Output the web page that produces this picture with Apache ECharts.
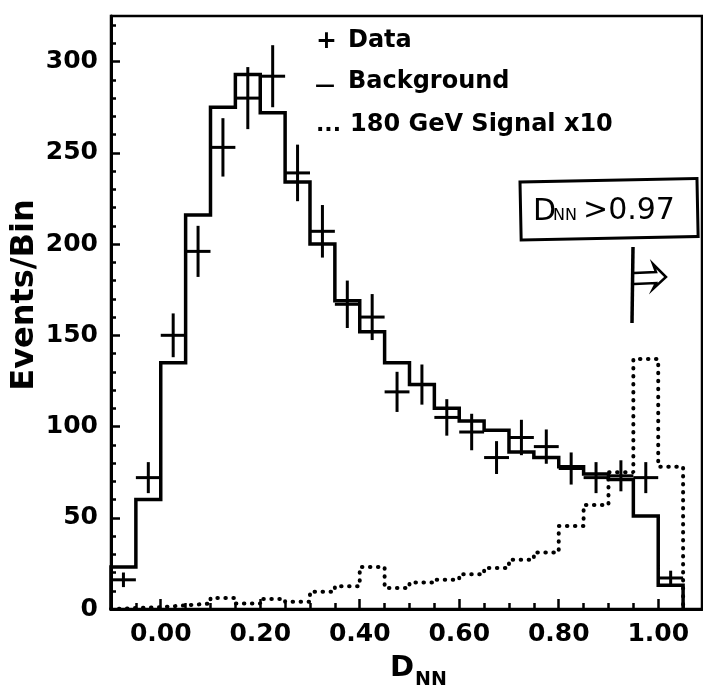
<!DOCTYPE html>
<html>
<head>
<meta charset="utf-8">
<script src="https://cdn.jsdelivr.net/npm/echarts@6/dist/echarts.min.js"></script>
<style>
  html, body { margin: 0; padding: 0; background: #fff; }
  #main { width: 703px; height: 690px; }
</style>
</head>
<body>
<div id="main"></div>
<script>
  // left edges of the D_NN bins (width 0.05)
  const binLow = [-0.1, -0.05, 0.0, 0.05, 0.1, 0.15, 0.2, 0.25, 0.3, 0.35, 0.4, 0.45,
    0.5, 0.55, 0.6, 0.65, 0.7, 0.75, 0.8, 0.85, 0.9, 0.95, 1.0];
  const binWidth = 0.05;

  // background expectation (solid histogram)
  const background = [23, 60, 135, 216, 275, 293, 272, 234, 200, 169, 152, 135,
    123, 110, 103, 98, 86, 83, 78, 74, 71, 51, 13];
  // 180 GeV signal x10 (dotted histogram)
  const signal = [0.5, 1, 2, 3, 6, 3, 5.5, 4, 9.5, 12.5, 23, 11.5,
    14.5, 16, 19, 22.5, 27, 31, 45.5, 57, 75, 137, 78];
  // data points and their error bars
  const dataValues = [16, 72, 150, 196, 253, 280, 292, 239, 207, 167, 160, 119,
    123, 105, 97, 83, 94, 89, 77, 72, 73, 72, 17];
  const dataErrors = [4, 8.5, 12, 14, 16, 17, 17, 15.5, 14.4, 13, 12.6, 11,
    11, 10, 10, 9, 9.7, 9.4, 8.8, 8.5, 8.5, 8.5, 4];

  const xLabels = [0, 0.2, 0.4, 0.6, 0.8, 1.0];
  const xMinorTicks = [-0.05, 0.05, 0.1, 0.15, 0.25, 0.3, 0.35, 0.45, 0.5, 0.55,
    0.65, 0.7, 0.75, 0.85, 0.9, 0.95, 1.05];
  const yLabels = [0, 50, 100, 150, 200, 250, 300];
  const yMinorTicks = [10, 20, 30, 40, 60, 70, 80, 90, 110, 120, 130, 140, 160, 170, 180, 190,
    210, 220, 230, 240, 260, 270, 280, 290, 310, 320];

  const FONT = 'DejaVu Sans';

  // outline of a histogram, bin by bin
  const histPoints = (vals) => {
    const pts = [[binLow[0], 0]];
    vals.forEach((v, i) => {
      pts.push([binLow[i], v], [binLow[i] + binWidth, v]);
    });
    pts.push([binLow[binLow.length - 1] + binWidth, 0]);
    return pts;
  };

  const chart = echarts.init(document.getElementById('main'));

  const xBase = {
    type: 'value',
    min: -0.1,
    max: 1.088,
    position: 'bottom',
    splitLine: { show: false }
  };
  const yBase = {
    type: 'value',
    min: 0,
    max: 325,
    position: 'left',
    splitLine: { show: false }
  };
  const tickLine = { color: '#000', width: 2.5 };

  const options = {
    animation: false,
    backgroundColor: '#fff',
    grid: {
      left: 111,
      top: 16,
      right: 1,
      bottom: 81,
      show: true,
      borderColor: '#000',
      borderWidth: 2.5
    },
    xAxis: [
      {
        ...xBase,
        axisLine: { onZero: false, lineStyle: { color: '#000', width: 3 } },
        axisTick: { inside: true, length: 10, customValues: xLabels, lineStyle: tickLine },
        axisLabel: {
          customValues: xLabels,
          formatter: (v) => v.toFixed(2),
          color: '#000',
          fontFamily: FONT,
          fontWeight: 'bold',
          fontSize: 25,
          margin: 13
        }
      },
      {
        ...xBase,
        axisLine: { show: false, onZero: false },
        axisTick: { inside: true, length: 6, customValues: xMinorTicks, lineStyle: tickLine },
        axisLabel: { show: false }
      }
    ],
    yAxis: [
      {
        ...yBase,
        axisLine: { show: true, onZero: false, lineStyle: { color: '#000', width: 3 } },
        axisTick: { inside: true, length: 9, customValues: yLabels, lineStyle: tickLine },
        axisLabel: {
          customValues: yLabels,
          color: '#000',
          fontFamily: FONT,
          fontWeight: 'bold',
          fontSize: 25,
          margin: 13
        }
      },
      {
        ...yBase,
        axisLine: { show: false, onZero: false },
        axisTick: { inside: true, length: 5, customValues: yMinorTicks, lineStyle: tickLine },
        axisLabel: { show: false }
      }
    ],
    series: [
      {
        name: 'Background',
        type: 'line',
        symbol: 'none',
        data: histPoints(background),
        lineStyle: { color: '#000', width: 3.5, join: 'miter' },
        z: 3
      },
      {
        name: '180 GeV Signal x10',
        type: 'line',
        symbol: 'none',
        data: histPoints(signal),
        lineStyle: { color: '#000', width: 4, type: [0.5, 7.5], cap: 'round' },
        z: 2
      },
      {
        name: 'Data',
        type: 'custom',
        data: binLow.map((x, i) => [x, dataValues[i], dataErrors[i]]),
        renderItem: (params, api) => {
          const lo = api.value(0);
          const v = api.value(1);
          const e = api.value(2);
          const pl = api.coord([lo, v]);
          const pr = api.coord([lo + binWidth, v]);
          const pt = api.coord([lo + binWidth / 2, v + e]);
          const pb = api.coord([lo + binWidth / 2, v - e]);
          const st = { stroke: '#000', lineWidth: 3 };
          return {
            type: 'group',
            children: [
              { type: 'line', shape: { x1: pl[0], y1: pl[1], x2: pr[0], y2: pr[1] }, style: st },
              { type: 'line', shape: { x1: pt[0], y1: pt[1], x2: pb[0], y2: pb[1] }, style: st }
            ]
          };
        },
        z: 4
      }
    ],
    graphic: [
      // y axis title
      {
        type: 'text', x: 25, y: 295, rotation: Math.PI / 2,
        style: { text: 'Events/Bin', font: 'bold 32px "DejaVu Sans"', fill: '#000', align: 'center', verticalAlign: 'middle' }
      },
      // x axis title D_NN
      {
        type: 'text', x: 390, y: 654,
        style: { text: 'D', font: 'bold 29px "DejaVu Sans"', fill: '#000' }
      },
      {
        type: 'text', x: 415, y: 671,
        style: { text: 'NN', font: 'bold 19px "DejaVu Sans"', fill: '#000' }
      },
      // legend
      { type: 'text', x: 316, y: 41, style: { text: '+', font: 'bold 25px "DejaVu Sans"', fill: '#000', verticalAlign: 'middle' } },
      { type: 'text', x: 348, y: 41, style: { text: 'Data', font: 'bold 24px "DejaVu Sans"', fill: '#000', verticalAlign: 'middle' } },
      { type: 'text', x: 315, y: 86, style: { text: '—', font: 'bold 20px "DejaVu Sans"', fill: '#000', verticalAlign: 'middle' } },
      { type: 'text', x: 348, y: 82, style: { text: 'Background', font: 'bold 24px "DejaVu Sans"', fill: '#000', verticalAlign: 'middle' } },
      { type: 'text', x: 316, y: 125, style: { text: '...', font: 'bold 22px "DejaVu Sans"', fill: '#000', verticalAlign: 'middle' } },
      { type: 'text', x: 350, y: 125, style: { text: '180 GeV Signal x10', font: 'bold 24px "DejaVu Sans"', fill: '#000', verticalAlign: 'middle' } },
      // hand-written cut annotation
      {
        type: 'rect', x: 520, y: 182, rotation: 0.02,
        shape: { width: 177, height: 58 },
        style: { fill: 'none', stroke: '#000', lineWidth: 3 }
      },
      { type: 'text', x: 533, y: 197, style: { text: 'D', font: '30px "DejaVu Sans"', fill: '#000' } },
      { type: 'text', x: 553, y: 208, style: { text: 'NN', font: '16px "DejaVu Sans"', fill: '#000' } },
      { type: 'text', x: 583, y: 196, style: { text: '>0.97', font: '30px "DejaVu Sans"', fill: '#000' } },
      {
        type: 'line', shape: { x1: 633, y1: 247, x2: 632, y2: 323 },
        style: { stroke: '#000', lineWidth: 3.5 }
      },
      {
        type: 'polyline',
        shape: { points: [[634, 273], [656, 272], [653, 264], [666, 277], [653, 289], [656, 283], [634, 284]] },
        style: { fill: 'none', stroke: '#000', lineWidth: 2.5 }
      }
    ]
  };

  chart.setOption(options);
</script>
</body>
</html>
